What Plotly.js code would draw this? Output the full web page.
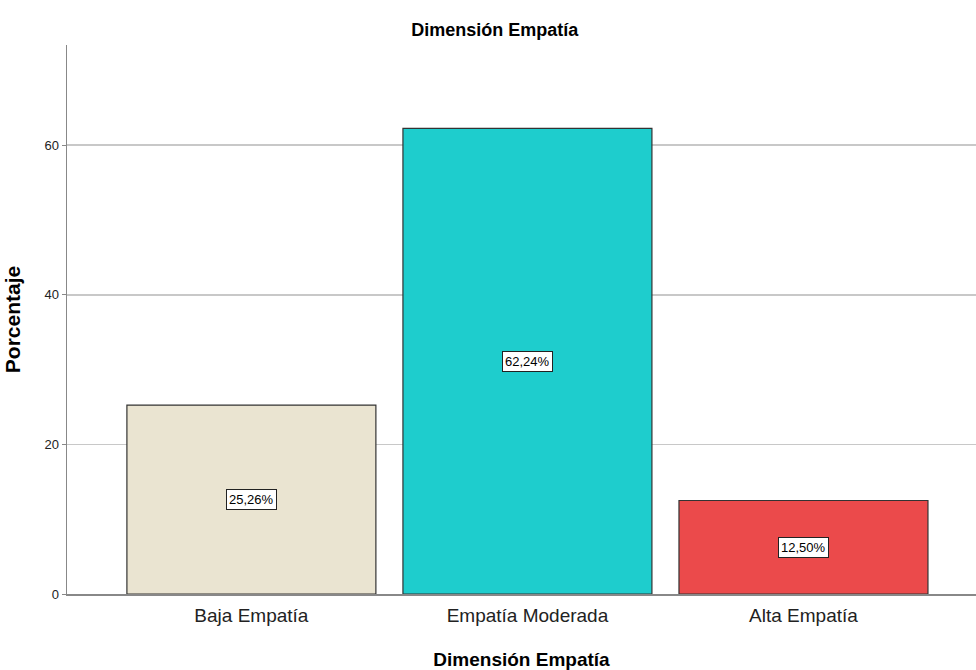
<!DOCTYPE html>
<html>
<head>
<meta charset="utf-8">
<script src="https://cdn.plot.ly/plotly-3.0.1.min.js"></script>
<style>html,body{margin:0;padding:0;background:#fff;}#chart{width:976px;height:670px;}</style>
</head>
<body>
<div id="chart"></div>
<script>
const categories = ["Baja Empatía", "Empatía Moderada", "Alta Empatía"];
const values = [25.26, 62.24, 12.50];
const labels = ["25,26%", "62,24%", "12,50%"];
const colors = ["#EAE4D1", "#1ECDCD", "#EB4A4B"];
const yTicks = [0, 20, 40, 60];

const FONT = "'Liberation Sans', Arial, sans-serif";

const trace = {
  type: "bar",
  x: [0, 1, 2],
  y: values,
  width: 0.902,
  marker: {color: colors, line: {color: "#333333", width: 1.2}},
  hoverinfo: "none"
};

const annotations = values.map((v, i) => ({
  x: i, y: v / 2, xref: "x", yref: "y",
  text: labels[i], showarrow: false,
  bgcolor: "#ffffff", bordercolor: "#222222", borderwidth: 1, borderpad: 2,
  font: {family: FONT, size: 13, color: "#000"}
}));

const layout = {
  width: 976, height: 670,
  margin: {l: 67, r: 0, t: 45, b: 76},
  paper_bgcolor: "#fff", plot_bgcolor: "#fff",
  showlegend: false,
  title: {text: "<b>Dimensión Empatía</b>", x: 0.507, xref: "container", y: 0.955, yref: "container",
          xanchor: "center", yanchor: "middle",
          font: {family: FONT, size: 18, color: "#000"}},
  xaxis: {
    range: [-0.668, 2.625],
    tickvals: [0, 1, 2], ticktext: categories,
    tickfont: {family: FONT, size: 19, color: "#222"},
    showgrid: false, zeroline: false,
    showline: true, linecolor: "#888", linewidth: 1.5,
    ticks: "outside", ticklen: 4, tickcolor: "rgba(0,0,0,0)",
    title: {text: "<b>Dimensión Empatía</b>", standoff: 27, font: {family: FONT, size: 19, color: "#000"}}
  },
  yaxis: {
    range: [0, 73.4],
    tickvals: yTicks, ticktext: yTicks.map(String),
    tickfont: {family: FONT, size: 13, color: "#222"},
    showgrid: true, gridcolor: "#c8c8c8", gridwidth: 1.5,
    zeroline: false,
    showline: true, linecolor: "#888", linewidth: 1.5,
    ticks: "outside", ticklen: 4, tickcolor: "#888",
    title: {text: "<b>Porcentaje</b>", standoff: 18, font: {family: FONT, size: 21, color: "#000"}}
  },
  annotations: annotations
};

Plotly.newPlot("chart", [trace], layout, {staticPlot: true, displayModeBar: false});
</script>
</body>
</html>
